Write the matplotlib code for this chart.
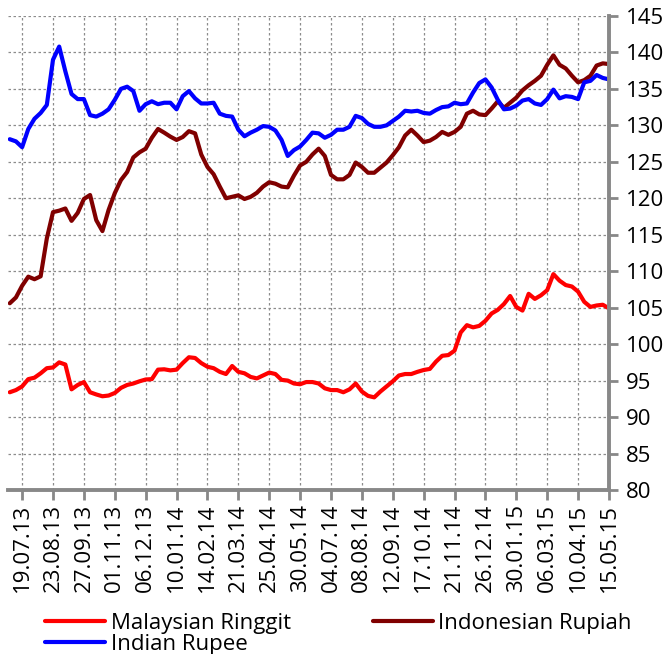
import matplotlib
matplotlib.use('Agg')
import matplotlib.pyplot as plt
import matplotlib.dates as mdates
import pandas as pd

plt.rcParams['font.family'] = 'Open Sans'

# weekly index values, 05.07.13 .. 15.05.15
dates = pd.date_range('2013-07-05', periods=98, freq='7D')

myr = [93.4, 93.7, 94.2, 95.2, 95.4, 96.0, 96.7, 96.8, 97.5, 97.2,
       93.8, 94.4, 94.8, 93.4, 93.1, 92.85, 92.95, 93.3, 94.0, 94.4,
       94.6, 94.9, 95.15, 95.2, 96.5, 96.55, 96.4, 96.5, 97.4, 98.2,
       98.1, 97.4, 96.9, 96.7, 96.2, 95.9, 97.0, 96.2, 96.0, 95.5,
       95.3, 95.7, 96.1, 95.9, 95.1, 95.0, 94.6, 94.5, 94.8, 94.8,
       94.6, 93.94, 93.7, 93.7, 93.4, 93.8, 94.6, 93.5, 92.9, 92.7,
       93.5, 94.2, 94.9, 95.7, 95.9, 95.9, 96.2, 96.45, 96.6, 97.6,
       98.4, 98.5, 99.1, 101.6, 102.6, 102.3, 102.5, 103.2, 104.2, 104.7,
       105.5, 106.6, 105.1, 104.6, 106.9, 106.2, 106.7, 107.4, 109.6, 108.7,
       108.1, 107.9, 107.2, 105.8, 105.1, 105.3, 105.4, 104.9]

idr = [105.6, 106.4, 108.0, 109.25, 108.9, 109.3, 114.5, 118.1, 118.3, 118.6,
       116.9, 118.0, 119.9, 120.45, 117.0, 115.5, 118.4, 120.7, 122.5, 123.6,
       125.6, 126.3, 126.8, 128.3, 129.5, 129.0, 128.45, 128.0, 128.4, 129.2,
       128.9, 126.0, 124.3, 123.3, 121.6, 120.0, 120.2, 120.4, 119.9, 120.2,
       120.75, 121.6, 122.2, 122.0, 121.6, 121.5, 123.1, 124.5, 125.0, 126.0,
       126.8, 125.8, 123.2, 122.6, 122.6, 123.2, 124.9, 124.3, 123.5, 123.5,
       124.2, 124.9, 125.9, 127.0, 128.6, 129.4, 128.6, 127.7, 127.9, 128.4,
       129.1, 128.7, 129.1, 129.8, 131.6, 132.0, 131.5, 131.4, 132.3, 133.3,
       132.4, 133.1, 133.8, 134.8, 135.5, 136.1, 136.8, 138.3, 139.6, 138.3,
       137.8, 136.8, 135.9, 136.2, 136.8, 138.2, 138.5, 138.4]

inr = [128.1, 127.8, 127.0, 129.5, 130.9, 131.7, 132.8, 139.0, 140.8, 137.4,
       134.3, 133.6, 133.6, 131.4, 131.2, 131.6, 132.2, 133.5, 135.0, 135.3,
       134.7, 132.0, 132.9, 133.3, 132.9, 133.1, 133.1, 132.2, 134.0, 134.7,
       133.7, 133.0, 133.0, 133.1, 131.6, 131.3, 131.2, 129.4, 128.5, 129.0,
       129.4, 129.9, 129.8, 129.3, 128.0, 125.8, 126.6, 127.1, 128.0, 129.0,
       128.9, 128.3, 128.7, 129.4, 129.4, 129.8, 131.3, 131.0, 130.2, 129.8,
       129.8, 130.0, 130.6, 131.2, 132.0, 131.9, 132.0, 131.7, 131.6, 132.1,
       132.5, 132.6, 133.1, 132.9, 133.0, 134.5, 135.8, 136.3, 135.2, 133.5,
       132.2, 132.3, 132.7, 133.4, 133.6, 133.0, 132.8, 133.6, 134.9, 133.7,
       134.0, 133.9, 133.6, 135.9, 136.1, 136.9, 136.5, 136.3]

labels = ['Malaysian Ringgit', 'Indonesian Rupiah', 'Indian Rupee']
colors = ['#ff0000', '#800000', '#0000ff']
tick_dates = pd.date_range('2013-07-19', periods=20, freq='35D')

fig = plt.figure(figsize=(6.72, 6.54), dpi=100)
ax = fig.add_axes([0.0119, 0.2508, 0.8943, 0.7248])

lines = []
for series, lab, col in zip([myr, idr, inr], labels, colors):
    l, = ax.plot(dates, series, color=col, lw=3.0, label=lab,
                 solid_joinstyle='round', solid_capstyle='round')
    lines.append(l)

ax.set_xlim(pd.Timestamp('2013-07-03'), pd.Timestamp('2015-05-15'))
ax.set_ylim(80, 145)
ax.set_yticks(range(80, 146, 5))
ax.set_xticks(tick_dates)
ax.xaxis.set_major_formatter(mdates.DateFormatter('%d.%m.%y'))

ax.yaxis.tick_right()
for s in ['left', 'top']:
    ax.spines[s].set_visible(False)
for s in ['right', 'bottom']:
    ax.spines[s].set_color('#888888')
    ax.spines[s].set_linewidth(2.8)

ax.tick_params(axis='y', which='major', direction='out', length=6.5, width=2,
               color='#888888', pad=6, labelsize=16, labelcolor='black')
ax.tick_params(axis='x', which='major', direction='out', length=7, width=2,
               color='#888888', pad=3, labelsize=16, labelrotation=90,
               labelcolor='black')

ax.grid(True, color='#8c8c8c', lw=0.9, linestyle=(0, (2, 2)))
ax.set_axisbelow(True)

# legend fills column-wise, so order so that rows read Malaysian, Indonesian / Indian
order = [0, 2, 1]
fig.legend(handles=[lines[i] for i in order], labels=[labels[i] for i in order],
           ncol=2, loc='upper left',
           bbox_to_anchor=(45 / 672, 1 - 613 / 654), frameon=False,
           fontsize=16, handlelength=2.7, handletextpad=0.25,
           columnspacing=3.7, labelspacing=0.0, borderpad=0, borderaxespad=0)

fig.savefig('out.png', dpi=100)
